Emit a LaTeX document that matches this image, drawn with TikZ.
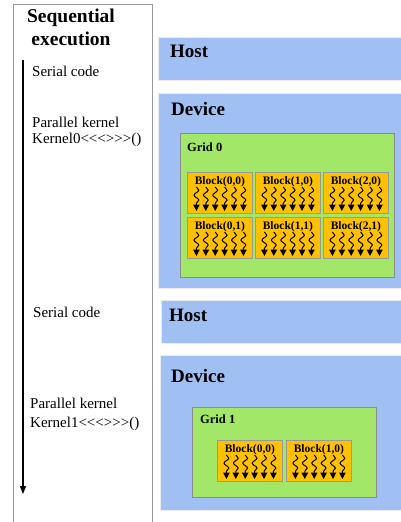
\documentclass[tikz,border=0pt]{standalone}
\usepackage{fontspec}
\setmainfont{Liberation Serif}[Ligatures=TeXOff]
\usetikzlibrary{arrows.meta,decorations.pathmorphing,positioning}

\definecolor{hostblue}{RGB}{160,191,243}
\definecolor{gridgreen}{RGB}{162,231,104}
\definecolor{blockorange}{RGB}{255,192,0}

\begin{document}
\begin{tikzpicture}[x=1pt,y=-1pt,
    panel/.style={draw=black!40,line width=0.8pt},
    timeline/.style={line width=1.3pt,-{Triangle[width=6pt,length=8pt]}},
    hostbox/.style={fill=hostblue,draw=black!8,line width=1pt,anchor=north west,inner sep=0pt},
    gridbox/.style={fill=gridgreen,draw=black!45,line width=0.8pt,anchor=north west,inner sep=0pt},
    blockbox/.style={fill=blockorange,draw=black!40,line width=0.8pt,anchor=north west,inner sep=0pt,
        minimum width=65pt,minimum height=41pt},
    codetext/.style={anchor=base west,inner sep=0pt,font=\fontsize{15}{16}\selectfont},
    boxlabel/.style={anchor=base west,inner sep=0pt,font=\fontsize{19}{20}\selectfont\bfseries},
    gridlabel/.style={anchor=base west,inner sep=0pt,font=\fontsize{12.5}{13}\selectfont\bfseries},
    blocklabel/.style={anchor=base,inner sep=0pt,font=\fontsize{11.5}{12}\selectfont\bfseries},
    thread/.style={line width=1pt,decorate,
        decoration={snake,amplitude=2.4pt,segment length=10pt,post length=6pt},
        -{Triangle[width=6.5pt,length=6.5pt]}}]
    \useasboundingbox (0,0) rectangle (401,522);

    % sequential side
    \draw[panel] (13,4) rectangle (152,535);
    \node[anchor=base,inner sep=0pt,align=center,font=\fontsize{19.5}{23}\selectfont\bfseries]
        (title) at (71,45) {Sequential\\execution};
    \coordinate (tstart) at (23,60);
    \coordinate (tend) at (23,494);
    \draw[timeline] (tstart) -- (tend);
    \node[codetext] (serial0) at (32,76) {Serial code};
    \node[codetext] (par0) at (32,127) {Parallel kernel};
    \node[codetext] (kern0) at (32,143) {Kernel0<<<>>>()};
    \node[codetext] (serial1) at (33,317) {Serial code};
    \node[codetext] (par1) at (30,408) {Parallel kernel};
    \node[codetext] (kern1) at (30,427) {Kernel1<<<>>>()};

    % host / device
    \node[hostbox,minimum width=246pt,minimum height=43pt] (host0) at (158,37) {};
    \node[boxlabel] (host0lbl) at (170,57) {Host};
    \node[hostbox,minimum width=246pt,minimum height=195pt] (dev0) at (158,93) {};
    \node[boxlabel] (dev0lbl) at (171,115) {Device};
    \node[hostbox,minimum width=243pt,minimum height=43pt] (host1) at (161,300) {};
    \node[boxlabel] (host1lbl) at (169,321) {Host};
    \node[hostbox,minimum width=244pt,minimum height=155pt] (dev1) at (160,355) {};
    \node[boxlabel] (dev1lbl) at (171,382) {Device};

    % grid 0
    \node[gridbox,minimum width=214pt,minimum height=144pt] (grid0) at (180,133) {};
    \node[gridlabel] (grid0lbl) at (187,151) {Grid 0};
    \foreach \i in {0,1,2}
      \foreach \j in {0,1} {
        \node[blockbox] (b\i\j) at (187+68*\i,172+45*\j) {};
        \node[blocklabel] (b\i\j lbl) at ([yshift=-12pt]b\i\j.north) {Block(\i,\j)};
        \foreach \k in {0,...,5}
          \draw[thread] ([xshift={(\k-2.5)*9.4pt},yshift=-15pt]b\i\j.north) -- ++(0pt,-24pt);
      }

    % grid 1
    \node[gridbox,minimum width=184pt,minimum height=90pt] (grid1) at (192,407) {};
    \node[gridlabel] (grid1lbl) at (200,423) {Grid 1};
    \foreach \i in {0,1} {
        \node[blockbox] (c\i) at (217+69*\i,440) {};
        \node[blocklabel] (c\i lbl) at ([yshift=-12pt]c\i.north) {Block(\i,0)};
        \foreach \k in {0,...,5}
          \draw[thread] ([xshift={(\k-2.5)*9.4pt},yshift=-15pt]c\i.north) -- ++(0pt,-24pt);
    }
\end{tikzpicture}
\end{document}
